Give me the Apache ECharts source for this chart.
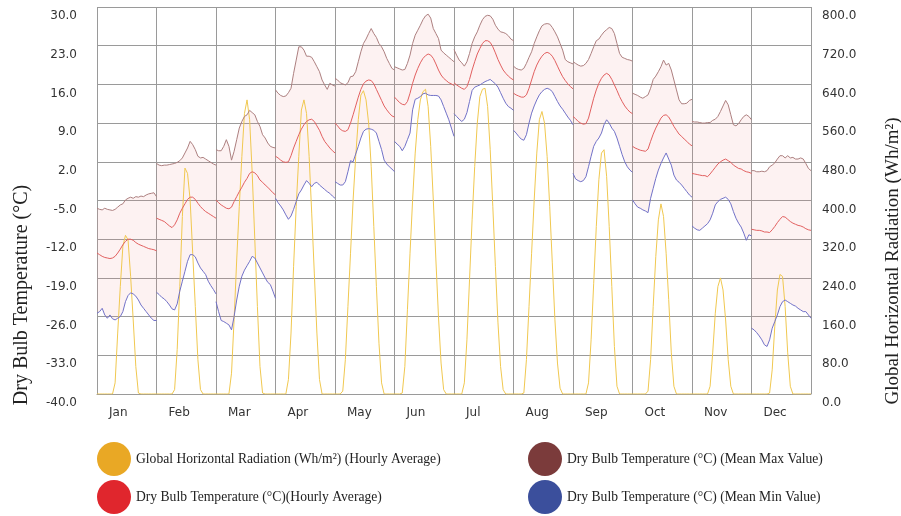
<!DOCTYPE html>
<html><head><meta charset="utf-8">
<script src="https://cdn.jsdelivr.net/npm/echarts@6/dist/echarts.min.js"></script>
<style>html,body{margin:0;padding:0;background:#fff}#c{width:901px;height:516px}</style>
</head><body><div id="c"></div>
<script>
const months = ['Jan','Feb','Mar','Apr','May','Jun','Jul','Aug','Sep','Oct','Nov','Dec'];

// Mean max dry bulb temperature (°C), 24 hourly values per month
const maxTemp = [
 [-6.4,-6.6,-6.7,-6.4,-6.6,-6.7,-6.8,-6.6,-6.2,-5.8,-5.6,-4.9,-4.6,-4.4,-4.6,-4.3,-4.4,-4.2,-4.3,-4.0,-3.8,-3.7,-3.6,-4.3],
 [1.7,1.4,1.3,1.4,1.4,1.5,1.6,1.7,1.9,2.2,2.7,3.6,4.5,5.7,5.1,4.2,3.0,2.7,2.8,2.5,2.2,1.9,1.6,1.4],
 [4.2,4.0,4.0,4.8,6.0,4.8,2.3,3.9,6.0,8.1,9.3,10.2,10.5,11.3,10.9,10.5,9.3,8.4,6.9,6.3,5.4,4.8,4.6,4.5],
 [15.0,14.4,14.0,13.8,13.9,14.5,15.3,18.0,20.4,22.8,22.8,22.2,21.1,21.1,20.9,20.1,19.2,18.3,16.8,15.9,15.1,16.2,15.9,15.7],
 [17.1,16.8,16.3,16.1,15.9,16.3,17.4,17.5,18.3,20.1,21.9,23.4,24.2,25.2,26.1,25.2,24.5,23.4,22.8,21.9,20.7,19.8,18.9,18.6],
 [19.2,19.0,18.8,18.6,18.7,19.8,21.3,23.4,24.9,25.8,26.7,27.7,28.4,28.7,28.0,26.1,25.2,24.3,22.2,21.7,21.3,20.9,20.5,20.1],
 [22.3,21.3,20.4,19.9,19.3,20.1,21.6,23.4,24.6,25.5,26.7,27.7,28.3,28.5,28.4,27.8,26.7,26.0,25.5,25.4,25.2,24.8,24.2,23.9],
 [19.3,18.9,18.7,18.6,18.9,19.8,20.9,21.9,23.4,24.6,25.7,26.6,26.9,27.0,26.9,26.3,25.5,24.6,23.4,22.2,20.5,20.1,19.9,19.7],
 [20.1,19.8,19.5,19.3,19.4,19.8,20.5,21.6,22.8,23.9,24.2,24.9,25.5,25.9,26.3,26.1,25.2,23.4,21.6,20.9,20.7,20.5,20.4,20.2],
 [14.4,14.2,14.0,13.7,13.5,13.8,14.1,15.3,16.9,17.5,18.3,19.2,20.4,19.5,19.8,18.6,16.8,15.0,13.2,12.5,12.5,12.6,13.1,13.3],
 [9.3,9.2,9.2,9.1,9.0,9.0,9.1,9.1,9.5,9.7,10.2,11.1,12.1,13.1,12.3,10.5,8.7,8.5,8.9,9.6,10.2,10.5,10.2,9.6],
 [0.4,0.4,0.2,0.2,0.3,0.2,0.4,1.1,1.4,1.8,2.5,3.1,3.1,2.7,3.1,2.7,2.8,2.5,2.5,2.7,2.5,1.7,0.8,0.4]
];

// Hourly average dry bulb temperature (°C)
const avgTemp = [
 [-14.5,-14.8,-15.1,-15.3,-15.4,-15.5,-15.4,-15.1,-14.5,-13.8,-13.0,-12.4,-12.0,-12.0,-12.2,-12.6,-12.9,-13.1,-13.3,-13.5,-13.7,-13.8,-13.9,-14.1],
 [-8.2,-8.4,-8.6,-8.8,-9.2,-9.6,-9.9,-9.4,-8.5,-7.3,-6.4,-5.6,-4.8,-4.4,-4.4,-4.8,-5.5,-6.1,-6.6,-7.0,-7.3,-7.6,-7.9,-8.2],
 [-4.9,-5.4,-5.8,-6.1,-6.4,-6.5,-6.2,-5.2,-4.3,-3.4,-2.6,-1.7,-1.0,-0.1,0.2,0.0,-0.5,-1.3,-1.7,-2.2,-2.6,-3.1,-3.6,-4.0],
 [3.0,2.7,2.3,2.0,1.9,2.0,3.1,4.5,5.7,6.9,7.9,8.7,9.3,9.6,9.7,9.3,8.5,7.7,6.6,5.7,5.1,4.5,4.0,3.6],
 [9.0,8.5,7.9,7.6,7.5,7.8,9.0,10.5,12.1,13.7,15.1,16.1,16.6,16.8,16.7,16.1,15.1,14.1,13.1,12.1,11.4,10.8,10.3,10.1],
 [13.7,13.2,12.7,12.4,12.3,12.9,14.4,16.2,17.7,18.9,19.9,20.7,21.2,21.5,21.3,20.7,19.7,18.6,17.7,17.1,16.7,16.3,16.1,15.8],
 [16.3,15.9,15.6,15.3,15.1,15.6,16.9,18.6,20.1,21.5,22.5,23.4,23.9,23.9,23.6,22.8,21.7,20.5,19.5,18.6,18.0,17.5,17.1,16.8],
 [14.4,14.1,13.9,13.7,13.7,14.1,15.3,16.8,18.3,19.5,20.4,21.1,21.6,21.8,21.6,21.1,20.3,19.3,18.3,17.4,16.7,16.1,15.6,15.2],
 [10.2,9.8,9.3,9.0,8.8,8.9,9.9,11.7,13.5,15.0,16.2,17.1,17.7,18.0,17.7,16.9,15.9,14.9,13.8,12.9,12.1,11.5,11.0,10.7],
 [4.8,4.5,4.3,4.1,4.0,3.9,4.3,5.7,7.0,8.1,9.0,9.9,10.4,10.5,10.1,9.3,8.4,7.7,7.0,6.6,6.1,5.7,5.2,4.9],
 [-0.1,-0.2,-0.3,-0.4,-0.5,-0.5,-0.7,-0.2,0.4,1.0,1.6,2.0,2.3,2.5,2.2,1.9,1.4,1.1,0.8,0.7,0.4,0.2,0.1,-0.1],
 [-10.2,-10.3,-10.4,-10.4,-10.5,-10.7,-10.7,-10.8,-10.3,-9.7,-9.0,-8.4,-7.9,-8.0,-8.4,-8.8,-9.1,-9.3,-9.5,-9.6,-9.8,-10.1,-10.3,-10.4]
];

// Mean min dry bulb temperature (°C)
const minTemp = [
 [-25.4,-25.1,-24.5,-25.7,-26.3,-25.7,-26.4,-26.6,-26.3,-26.0,-25.1,-23.3,-22.2,-21.7,-21.9,-22.3,-23.0,-23.9,-24.5,-25.1,-25.7,-26.3,-26.7,-26.7],
 [-21.6,-22.0,-22.5,-22.8,-23.3,-23.9,-24.6,-24.8,-23.7,-21.4,-19.6,-17.8,-16.0,-14.8,-14.8,-15.2,-16.3,-17.2,-17.8,-18.4,-19.6,-20.4,-21.1,-21.9],
 [-23.3,-25.1,-26.7,-26.9,-27.2,-27.5,-28.4,-26.0,-23.0,-20.5,-18.7,-17.6,-16.8,-16.0,-15.1,-15.4,-16.3,-17.2,-18.1,-19.0,-19.8,-20.2,-21.4,-22.7],
 [-4.6,-5.4,-6.0,-6.7,-7.6,-8.4,-7.8,-6.6,-5.2,-3.8,-3.1,-2.2,-1.4,-1.9,-2.5,-1.9,-1.7,-2.2,-2.6,-3.0,-3.4,-3.7,-4.2,-4.6],
 [-1.6,-1.9,-2.2,-2.2,-1.6,0.2,2.2,2.0,3.4,4.8,6.3,7.5,7.9,8.0,7.9,7.7,7.2,5.7,4.2,2.3,1.6,1.1,0.7,0.2],
 [5.7,5.2,4.8,4.0,4.8,6.0,7.2,11.4,13.3,13.5,13.8,14.3,14.4,14.1,14.0,14.0,14.0,13.9,13.2,12.0,10.8,9.6,8.1,6.6],
 [10.7,10.2,9.7,9.3,9.7,10.9,12.9,14.9,15.5,15.7,15.9,16.2,16.5,16.7,16.9,16.5,16.1,15.5,14.5,13.5,12.6,12.0,11.7,11.3],
 [7.7,7.2,6.6,6.1,5.9,6.9,9.0,10.8,12.1,13.2,14.1,14.7,15.1,15.3,15.1,14.7,13.8,12.9,12.1,11.5,10.8,10.1,9.5,8.7],
 [-0.1,-1.1,-1.4,-1.6,-1.4,-0.7,1.1,3.0,4.8,5.7,6.3,7.2,8.7,9.6,9.0,8.1,7.5,6.3,4.8,3.3,2.0,1.1,0.5,0.1],
 [-4.9,-5.6,-6.2,-6.4,-6.7,-6.9,-7.2,-4.6,-2.8,-1.0,0.5,1.7,2.7,3.6,2.5,1.4,-0.4,-1.3,-1.7,-2.2,-2.8,-3.4,-4.0,-4.4],
 [-9.6,-10.0,-10.3,-10.4,-10.0,-9.6,-9.2,-8.5,-7.3,-5.8,-5.2,-4.8,-4.6,-4.4,-4.8,-5.6,-7.0,-8.2,-9.1,-9.8,-10.9,-12.2,-11.2,-11.4],
 [-28.1,-28.4,-28.9,-29.5,-30.2,-31.1,-31.4,-30.2,-28.1,-26.9,-25.7,-24.2,-23.3,-23.0,-23.3,-23.6,-23.9,-24.1,-24.5,-24.8,-25.1,-25.1,-25.7,-26.3]
];

// Global horizontal radiation (Wh/m²), hourly average
const radiation = [
 [0,0,0,0,0,0,0,23,126,222,305,328,319,243,153,57,2,0,0,0,0,0,0,0],
 [0,0,0,0,0,0,0,9,92,222,367,467,456,401,291,181,71,9,0,0,0,0,0,0],
 [0,0,0,0,0,0,43,154,277,388,491,580,608,567,456,319,181,57,2,0,0,0,0,0],
 [0,0,0,0,0,30,126,264,388,491,587,608,580,491,374,250,126,30,0,0,0,0,0,0],
 [0,0,0,6,71,181,291,401,491,567,618,627,608,560,470,346,222,105,23,0,0,0,0,0],
 [0,0,0,2,57,174,291,401,498,567,608,625,630,594,512,401,277,160,64,9,0,0,0,0],
 [0,0,0,0,23,112,236,360,470,560,615,630,632,594,505,388,264,147,57,9,0,0,0,0],
 [0,0,0,0,2,71,181,291,401,498,567,584,560,491,388,271,154,64,12,0,0,0,0,0],
 [0,0,0,0,0,0,23,112,229,346,443,498,505,450,346,222,98,16,0,0,0,0,0,0],
 [0,0,0,0,0,0,6,71,181,284,360,393,367,291,195,85,16,0,0,0,0,0,0,0],
 [0,0,0,0,0,0,0,16,85,167,222,240,215,153,71,16,0,0,0,0,0,0,0,0],
 [0,0,0,0,0,0,0,2,50,140,215,247,243,181,85,16,0,0,0,0,0,0,0,0]
];

const seriesNames = {
  rad: 'Global Horizontal Radiation (Wh/m²) (Hourly Average)',
  avg: 'Dry Bulb Temperature (°C)(Hourly Average)',
  max: 'Dry Bulb Temperature (°C) (Mean Max Value)',
  min: 'Dry Bulb Temperature (°C) (Mean Min Value)'
};

const HOURS = 24;
function xOf(m, h) { return m + h / (HOURS - 1); }
function toLine(arr, breaks) {
  const out = [];
  arr.forEach((vals, m) => {
    vals.forEach((v, h) => out.push([xOf(m, h), v]));
    if (breaks && m < arr.length - 1) out.push([m + 1, '-']);
  });
  return out;
}

const chart = echarts.init(document.getElementById('c'), null, {renderer: 'canvas'});
const tickFont = 'DejaVu Sans';
const gridColor = '#9a9a9a';

const option = {
  animation: false,
  backgroundColor: '#fff',
  grid: {left: 97, right: 90, top: 7, bottom: 122, containLabel: false},
  xAxis: {
    type: 'value', min: 0, max: 12, interval: 1,
    axisLine: {show: true, onZero: false, lineStyle: {color: gridColor}},
    axisTick: {show: false},
    splitLine: {show: true, lineStyle: {color: gridColor, width: 1}},
    axisLabel: {
      formatter: v => months[v] || '',
      align: 'left', padding: [0, 0, 0, 12], margin: 13,
      color: '#333', fontFamily: tickFont, fontSize: 12,
      showMinLabel: true, showMaxLabel: true
    }
  },
  yAxis: [
    {
      type: 'value', min: -40, max: 30, interval: 7,
      axisLine: {show: false}, axisTick: {show: false},
      splitLine: {show: true, lineStyle: {color: gridColor, width: 1}},
      axisLabel: {formatter: v => v.toFixed(1), color: '#333', fontFamily: tickFont, fontSize: 12,
        margin: 20, verticalAlign: 'top', padding: [3, 0, 0, 0]}
    },
    {
      type: 'value', min: 0, max: 800, interval: 80, position: 'right',
      axisLine: {show: false}, axisTick: {show: false}, splitLine: {show: false},
      axisLabel: {formatter: v => v.toFixed(1), color: '#333', fontFamily: tickFont, fontSize: 12,
        margin: 11, verticalAlign: 'top', padding: [3, 0, 0, 0]}
    }
  ],
  legend: [
    {
      left: 97, top: 442, orient: 'vertical', padding: 0, itemGap: 4,
      itemWidth: 34, itemHeight: 34, icon: 'circle', selectedMode: false,
      textStyle: {fontFamily: 'Liberation Serif', fontSize: 13.6, color: '#222'},
      data: [
        {name: seriesNames.rad, itemStyle: {color: '#e9a825', borderWidth: 0}},
        {name: seriesNames.avg, itemStyle: {color: '#e0262d', borderWidth: 0}}
      ]
    },
    {
      left: 528, top: 442, orient: 'vertical', padding: 0, itemGap: 4,
      itemWidth: 34, itemHeight: 34, icon: 'circle', selectedMode: false,
      textStyle: {fontFamily: 'Liberation Serif', fontSize: 13.6, color: '#222'},
      data: [
        {name: seriesNames.max, itemStyle: {color: '#7b3b3b', borderWidth: 0}},
        {name: seriesNames.min, itemStyle: {color: '#3b4f9c', borderWidth: 0}}
      ]
    }
  ],
  graphic: [
    {type: 'text', x: 22, y: 295, rotation: Math.PI / 2,
      style: {text: 'Dry Bulb Temperature (°C)', font: '20px "Liberation Serif"', fill: '#222',
        textAlign: 'center', textVerticalAlign: 'middle'}},
    {type: 'text', x: 893, y: 261, rotation: Math.PI / 2,
      style: {text: 'Global Horizontal Radiation (Wh/m²)', font: '19px "Liberation Serif"', fill: '#222',
        textAlign: 'center', textVerticalAlign: 'middle'}}
  ],
  series: [
    {
      type: 'custom', name: 'band', silent: true, z: 1,
      xAxisIndex: 0, yAxisIndex: 0,
      data: months.map((_, i) => [i, 0]),
      encode: {x: 0, y: 1},
      renderItem: (params, api) => {
        const m = params.dataIndex;
        const pts = [];
        for (let h = 0; h < HOURS; h++) pts.push(api.coord([xOf(m, h), maxTemp[m][h]]));
        for (let h = HOURS - 1; h >= 0; h--) pts.push(api.coord([xOf(m, h), minTemp[m][h]]));
        return {type: 'polygon', shape: {points: pts}, style: {fill: 'rgba(235,140,140,0.11)'}};
      }
    },
    {
      type: 'line', name: seriesNames.rad, yAxisIndex: 1, z: 2,
      data: toLine(radiation, false), showSymbol: false, symbol: 'none',
      color: '#e9a825', lineStyle: {color: '#f0c850', width: 1}, emphasis: {disabled: true}
    },
    {
      type: 'line', name: seriesNames.avg, yAxisIndex: 0, z: 3,
      data: toLine(avgTemp, true), showSymbol: false, symbol: 'none',
      color: '#e0262d', lineStyle: {color: '#e26060', width: 1}, emphasis: {disabled: true}
    },
    {
      type: 'line', name: seriesNames.max, yAxisIndex: 0, z: 3,
      data: toLine(maxTemp, true), showSymbol: false, symbol: 'none',
      color: '#7b3b3b', lineStyle: {color: '#ad8080', width: 1}, emphasis: {disabled: true}
    },
    {
      type: 'line', name: seriesNames.min, yAxisIndex: 0, z: 3,
      data: toLine(minTemp, true), showSymbol: false, symbol: 'none',
      color: '#3b4f9c', lineStyle: {color: '#7272c8', width: 1}, emphasis: {disabled: true}
    }
  ]
};
chart.setOption(option);
</script>
</body></html>
